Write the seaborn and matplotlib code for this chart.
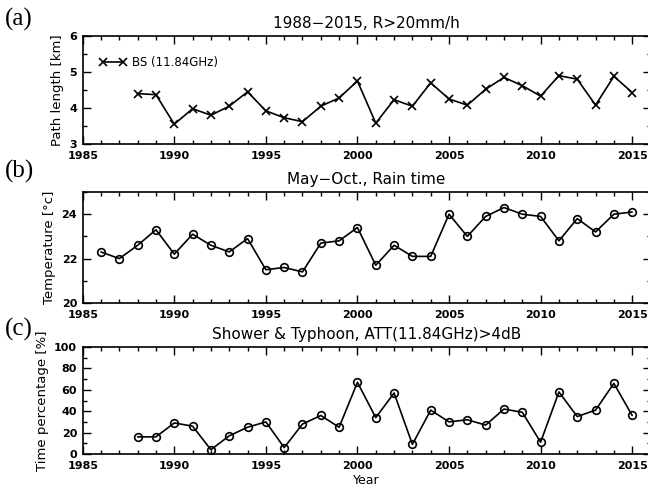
import numpy as np
import pandas as pd
import matplotlib
matplotlib.use("Agg")
import matplotlib.pyplot as plt
import seaborn as sns
from matplotlib.ticker import MultipleLocator

sns.set_style("ticks")
plt.rcParams['font.family'] = ['DejaVu Sans']
plt.rcParams['text.color'] = 'black'
plt.rcParams['axes.labelcolor'] = 'black'
plt.rcParams['xtick.color'] = 'black'
plt.rcParams['ytick.color'] = 'black'

years_a = list(range(1988, 2016))
path_len = [4.40, 4.37, 3.55, 3.98, 3.80, 4.05, 4.45, 3.92, 3.73, 3.62,
            4.05, 4.28, 4.75, 3.58, 4.23, 4.05, 4.70, 4.25, 4.08, 4.52,
            4.85, 4.62, 4.33, 4.90, 4.80, 4.08, 4.88, 4.43]

years_b = list(range(1986, 2016))
temperature = [22.3, 22.0, 22.6, 23.3, 22.2, 23.1, 22.6, 22.3, 22.9, 21.5,
               21.6, 21.4, 22.7, 22.8, 23.4, 21.7, 22.6, 22.1, 22.1, 24.0,
               23.0, 23.9, 24.3, 24.0, 23.9, 22.8, 23.8, 23.2, 24.0, 24.1]

years_c = list(range(1988, 2016))
time_pct = [16, 16, 29, 26, 4, 17, 25, 30, 6, 28, 36, 25, 67, 34, 57, 9,
            41, 30, 32, 27, 42, 39, 11, 58, 35, 41, 66, 36]

titles = ["1988\u22122015, R>20mm/h", "May\u2212Oct., Rain time",
          "Shower & Typhoon, ATT(11.84GHz)>4dB"]
ylabels = ["Path length [km]", "Temperature [\u00b0c]", "Time percentage [%]"]
panel_tags = ["(a)", "(b)", "(c)"]
legend_label = "BS (11.84GHz)"

df_a = pd.DataFrame({"Year": years_a, "val": path_len})
df_b = pd.DataFrame({"Year": years_b, "val": temperature})
df_c = pd.DataFrame({"Year": years_c, "val": time_pct})

fig = plt.figure(figsize=(6.48, 4.88), dpi=100)
left = 82.7 / 648
width = (650.5 - 82.7) / 648
pos = [(144, 108), (303, 111), (454, 107)]
axes = []
for bot, h in pos:
    axes.append(fig.add_axes([left, 1 - bot / 488, width, h / 488]))

ax_a, ax_b, ax_c = axes

sns.lineplot(data=df_a, x="Year", y="val", ax=ax_a, color="black", lw=1.2,
             marker="x", markersize=5.5, markeredgewidth=1.2,
             markeredgecolor="black", label=legend_label)
sns.lineplot(data=df_b, x="Year", y="val", ax=ax_b, color="black", lw=1.2,
             marker="o", markersize=5.5, markerfacecolor="none",
             markeredgecolor="black", markeredgewidth=1.2)
sns.lineplot(data=df_c, x="Year", y="val", ax=ax_c, color="black", lw=1.2,
             marker="o", markersize=5.5, markerfacecolor="none",
             markeredgecolor="black", markeredgewidth=1.2)

ylims = [(3, 6), (20, 25), (0, 100)]
ymaj = [1, 2, 20]
ymin = [0.5, 1, 10]
for i, ax in enumerate(axes):
    ax.set_xlim(1985, 2016)
    ax.set_ylim(*ylims[i])
    ax.xaxis.set_major_locator(MultipleLocator(5))
    ax.xaxis.set_minor_locator(MultipleLocator(1))
    ax.yaxis.set_major_locator(MultipleLocator(ymaj[i]))
    ax.yaxis.set_minor_locator(MultipleLocator(ymin[i]))
    ax.tick_params(which="both", direction="in", top=True, right=True,
                   width=1.0, colors="black")
    ax.tick_params(which="major", length=6, labelsize=8)
    ax.tick_params(axis="x", which="major", pad=5)
    ax.tick_params(axis="y", which="major", pad=4)
    ax.tick_params(which="minor", length=3)
    for lab in ax.get_xticklabels() + ax.get_yticklabels():
        lab.set_fontweight("bold")
    for s in ax.spines.values():
        s.set_linewidth(1.2)
        s.set_color("black")
    ax.set_title(titles[i], fontsize=11, pad=6, color="black")
    ax.set_ylabel(ylabels[i], fontsize=9.5, labelpad=4)
    ax.set_xlabel("")

tag_y = [19, 171, 329]
for t, yy in zip(panel_tags, tag_y):
    fig.text(5 / 648, 1 - yy / 488, t, fontsize=18, family="Liberation Serif",
             ha="left", va="center", color="black")

ax_c.set_xlabel("Year", fontsize=9, labelpad=2)

leg = ax_a.legend(loc="upper left", frameon=False, fontsize=8.5, numpoints=2,
                  handlelength=2.3, handletextpad=0.5, borderaxespad=0.6,
                  bbox_to_anchor=(0.008, 0.92))

fig.savefig("out.png", dpi=100)
